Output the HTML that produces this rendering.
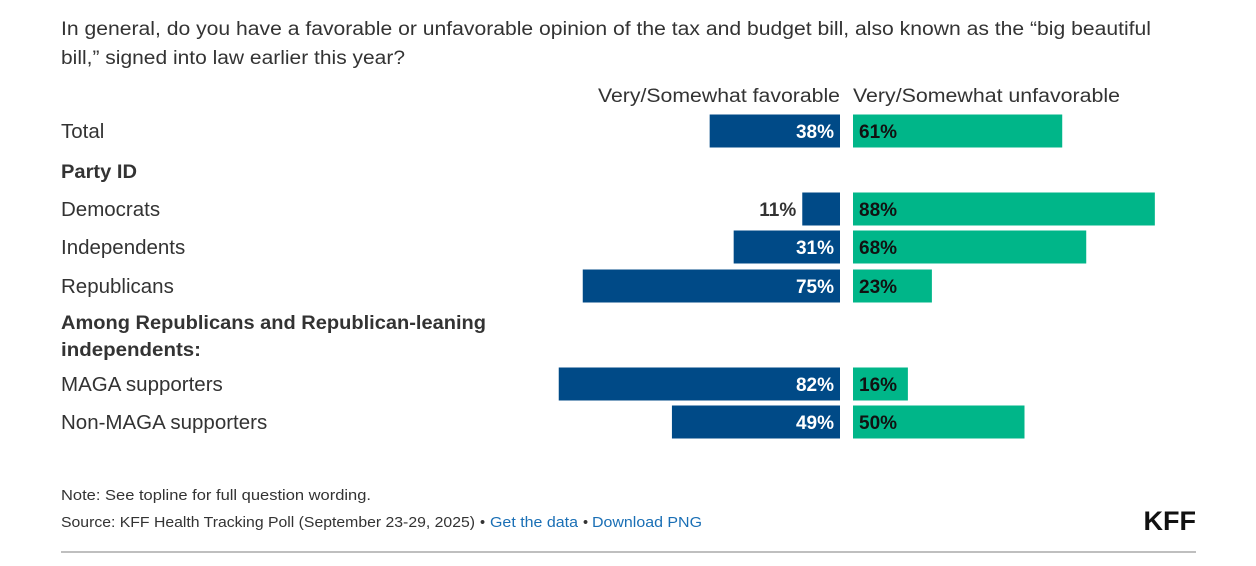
<!DOCTYPE html>
<html><head><meta charset="utf-8"><style>
body{margin:0;background:#fff;}
svg{display:block;font-family:"Liberation Sans",sans-serif;}
</style></head><body>
<svg id="c" width="1256" height="566">
<text x="61" y="35" font-size="19" fill="#333" textLength="1090" lengthAdjust="spacingAndGlyphs">In general, do you have a favorable or unfavorable opinion of the tax and budget bill, also known as the “big beautiful</text>
<text x="61" y="64" font-size="19" fill="#333" textLength="344" lengthAdjust="spacingAndGlyphs">bill,” signed into law earlier this year?</text>
<text x="840" y="102" font-size="19" fill="#333" text-anchor="end" textLength="242" lengthAdjust="spacingAndGlyphs">Very/Somewhat favorable</text>
<text x="853" y="102" font-size="19" fill="#333" textLength="267" lengthAdjust="spacingAndGlyphs">Very/Somewhat unfavorable</text>
<text x="61" y="178" font-size="19" font-weight="bold" fill="#333" textLength="76" lengthAdjust="spacingAndGlyphs">Party ID</text>
<text x="61" y="329" font-size="19" font-weight="bold" fill="#333" textLength="425" lengthAdjust="spacingAndGlyphs">Among Republicans and Republican-leaning</text>
<text x="61" y="356" font-size="19" font-weight="bold" fill="#333" textLength="140" lengthAdjust="spacingAndGlyphs">independents:</text>
<g id="bars"></g>
<text x="61" y="500" font-size="14.5" fill="#333" textLength="310" lengthAdjust="spacingAndGlyphs">Note: See topline for full question wording.</text>
<text x="61" y="527" font-size="14.5" fill="#333" textLength="414" lengthAdjust="spacingAndGlyphs">Source: KFF Health Tracking Poll (September 23-29, 2025)</text>
<text x="480" y="527" font-size="14.5" fill="#333">•</text>
<text x="490" y="527" font-size="14.5" fill="#1a6fb5" textLength="88" lengthAdjust="spacingAndGlyphs">Get the data</text>
<text x="583" y="527" font-size="14.5" fill="#333">•</text>
<text x="592" y="527" font-size="14.5" fill="#1a6fb5" textLength="110" lengthAdjust="spacingAndGlyphs">Download PNG</text>
<text x="1196" y="530" font-size="27" font-weight="bold" fill="#111" text-anchor="end">KFF</text>
<line x1="61" y1="552" x2="1196" y2="552" stroke="#aaa" stroke-width="1.5"/>
</svg>
<script>
const categories=["Total","Democrats","Independents","Republicans","MAGA supporters","Non-MAGA supporters"];
const favorable=[38,11,31,75,82,49];
const unfavorable=[61,88,68,23,16,50];
const rowCenters=[131,209,247,286,384,422];
const ns="http://www.w3.org/2000/svg";
const g=document.getElementById('bars');
const scale=v=>v*3.43;
const leftEdge=840,rightEdge=853,barH=33;
function mk(tag,attrs,text){const e=document.createElementNS(ns,tag);for(const k in attrs)e.setAttribute(k,attrs[k]);if(text!=null)e.textContent=text;g.appendChild(e);return e;}
categories.forEach((c,i)=>{
  const cy=rowCenters[i],y=cy-barH/2;
  const lab=mk('text',{x:61,y:cy+7,'font-size':20.5,fill:'#333'},c);
  
  
  const wf=scale(favorable[i]);
  const b1=mk('rect',{x:leftEdge-wf,y:y,width:wf,height:barH,fill:'#004a87'});
  
  
  const inside=wf>70;
  const t1=mk('text',{x:inside?leftEdge-6:leftEdge-wf-6,y:cy+7,'font-size':19,'font-weight':'bold','text-anchor':'end',fill:inside?'#fff':'#333'},favorable[i]+'%');
  
  
  const wu=scale(unfavorable[i]);
  const b2=mk('rect',{x:rightEdge,y:y,width:wu,height:barH,fill:'#00b689'});
  
  
  const t2=mk('text',{x:rightEdge+6,y:cy+7,'font-size':19,'font-weight':'bold',fill:'#111'},unfavorable[i]+'%');
  
  
});
</script>
</body></html>
